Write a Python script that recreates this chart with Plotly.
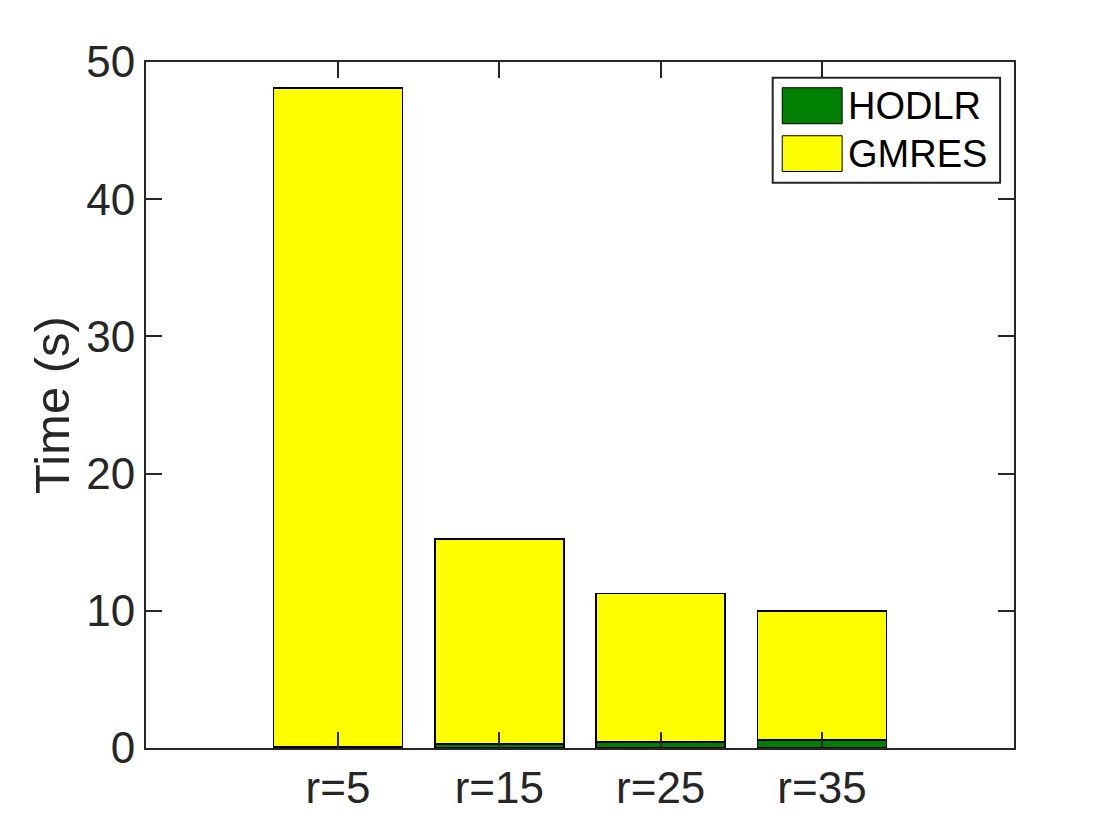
import plotly.graph_objects as go

categories = ["r=5", "r=15", "r=25", "r=35"]
positions = [1, 2, 3, 4]
hodlr = [0.1, 0.3, 0.42, 0.58]
gmres = [48.0, 14.92, 10.83, 9.42]
series_names = ["HODLR", "GMRES"]
series_colors = ["#008000", "#ffff00"]
y_ticks = [0, 10, 20, 30, 40, 50]

FONT = "Liberation Sans, Arial, Helvetica, sans-serif"
AX = "#262626"

fig = go.Figure()
for name, vals, col in zip(series_names, [hodlr, gmres], series_colors):
    fig.add_trace(go.Bar(
        x=positions, y=vals, name=name, width=0.8,
        marker=dict(color=col, line=dict(color="black", width=1.5)),
        showlegend=False,
    ))

axis_common = dict(
    showline=True, linecolor=AX, linewidth=2, mirror="ticks",
    ticks="inside", ticklen=16, tickwidth=2, tickcolor=AX,
    showgrid=False, zeroline=False,
    tickfont=dict(family=FONT, size=44, color=AX),
)

fig.update_layout(
    width=1120, height=840,
    paper_bgcolor="white", plot_bgcolor="white",
    barmode="stack",
    margin=dict(l=138, r=114, t=54, b=100),
    xaxis=dict(range=[-0.19, 5.19], tickvals=positions, ticktext=categories, **axis_common),
    yaxis=dict(range=[0, 50], tickvals=y_ticks,
               title=dict(text="Time (s)", font=dict(family=FONT, size=49, color=AX), standoff=1),
               **axis_common),
)

# Custom legend (MATLAB style)
fig.add_shape(type="rect", xref="paper", yref="paper", x0=0.722, x1=0.984, y0=0.824, y1=0.977,
              line=dict(color=AX, width=2), fillcolor="white", layer="above")
legend_rows = [(0.9625, 0.910), (0.8925, 0.8404)]
for (ytop, ybot), name, col in zip(legend_rows, series_names, series_colors):
    fig.add_shape(type="rect", xref="paper", yref="paper", x0=0.733, x1=0.802, y0=ybot, y1=ytop,
                  line=dict(color="black", width=1), fillcolor=col, layer="above")
    fig.add_annotation(xref="paper", yref="paper", x=0.806, y=(ytop + ybot) / 2, text=name,
                       showarrow=False, xanchor="left", yanchor="middle",
                       font=dict(family=FONT, size=38, color="black"))

fig.write_html("out.html")
